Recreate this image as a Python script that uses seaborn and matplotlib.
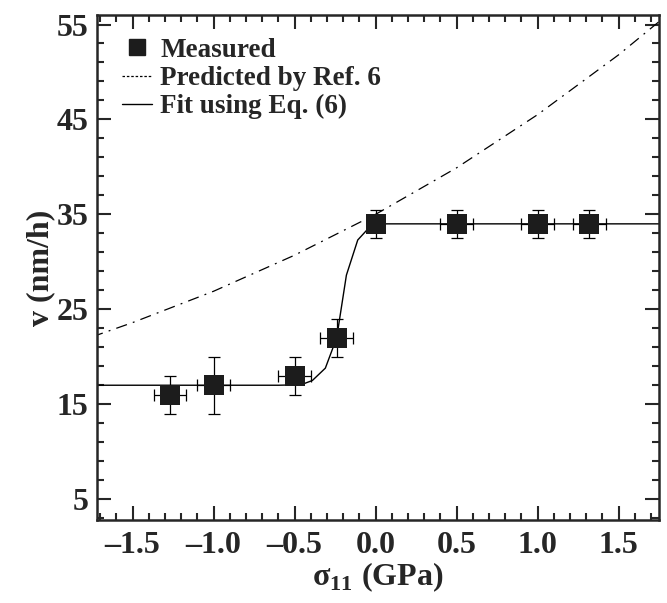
import matplotlib
matplotlib.use("Agg")
import matplotlib.pyplot as plt
import seaborn as sns
import pandas as pd
from matplotlib.ticker import MultipleLocator, FixedLocator, FuncFormatter
from matplotlib.lines import Line2D

# measured growth velocity vs stress
stress = [-1.27, -1.0, -0.5, -0.24, 0.0, 0.5, 1.0, 1.32]
velocity = [16, 17, 18, 22, 34, 34, 34, 34]
vel_err = [2, 3, 2, 2, 1.5, 1.5, 1.5, 1.5]
stress_err = [0.1, 0.1, 0.1, 0.1, 0.0, 0.1, 0.1, 0.1]

# prediction from Ref. 6
pred_x = [-1.75, -1.5, -1.0, -0.5, 0.0, 0.5, 1.0, 1.5, 1.75]
pred_y = [22.1, 23.6, 26.9, 30.7, 35.0, 39.9, 45.5, 51.8, 55.3]

# fit using Eq. (6)
fit_x = [-1.75, -0.6, -0.46, -0.39, -0.31, -0.24, -0.18, -0.11, -0.04, 0.0, 1.75]
fit_y = [17.0, 17.0, 17.05, 17.5, 18.8, 22.0, 28.6, 32.3, 33.6, 34.0, 34.0]

y_major = [5, 15, 25, 35, 45, 55]
y_minor = [3, 7, 9, 11, 13, 17, 19, 21, 23, 27, 29, 31, 33, 37, 39, 41, 43, 47, 49, 51, 53]

meas = pd.DataFrame({"s": stress, "v": velocity})
pred = pd.DataFrame({"s": pred_x, "v": pred_y})
fit = pd.DataFrame({"s": fit_x, "v": fit_y})

sns.set_theme(style="ticks")
plt.rcParams["font.family"] = ["Liberation Serif", "DejaVu Serif"]
plt.rcParams["font.weight"] = "bold"
plt.rcParams["mathtext.fontset"] = "custom"
plt.rcParams["mathtext.rm"] = "Liberation Serif:bold"
plt.rcParams["mathtext.bf"] = "Liberation Serif:bold"

fig = plt.figure(figsize=(6.67, 6.03), dpi=100)
ax = fig.add_axes([0.1454, 0.1376, 0.8426, 0.8375])

sns.lineplot(data=pred, x="s", y="v", ax=ax, color="black", lw=0.9,
             linestyle=(0, (9, 5, 1.5, 5)), sort=False)
sns.lineplot(data=fit, x="s", y="v", ax=ax, color="black", lw=1.0, sort=False)
ax.errorbar(stress, velocity, yerr=vel_err, xerr=stress_err, fmt="none",
            ecolor="black", elinewidth=0.9, capsize=4, capthick=0.9, zorder=3)
sns.scatterplot(data=meas, x="s", y="v", ax=ax, marker="s", s=190,
                color="#1c1c1c", edgecolor="#1c1c1c", linewidth=0, zorder=4)

ax.set_xlim(-1.72, 1.75)
ax.set_ylim(2.8, 56)
ax.xaxis.set_major_locator(MultipleLocator(0.5))
ax.xaxis.set_minor_locator(MultipleLocator(0.1))
ax.yaxis.set_major_locator(FixedLocator(y_major))
ax.yaxis.set_minor_locator(FixedLocator(y_minor))
ax.xaxis.set_major_formatter(FuncFormatter(lambda v, p: f"{v:.1f}".replace("-", "\u2013")))

ax.tick_params(which="both", direction="in", top=True, right=True,
               labelsize=23, width=1.5)
ax.tick_params(axis="x", pad=8)
ax.tick_params(axis="y", pad=6)
ax.tick_params(which="major", length=10)
ax.tick_params(which="minor", length=5)
for sp in ax.spines.values():
    sp.set_linewidth(1.8)
for lab in ax.get_xticklabels() + ax.get_yticklabels():
    lab.set_fontweight("bold")

ax.set_xlabel("\u03c3$_{11}$ (GPa)", fontsize=23, fontweight="bold", labelpad=0)
ax.set_ylabel("v (nm/h)", fontsize=23, fontweight="bold", labelpad=1)

handles = [
    Line2D([], [], marker="s", color="#1c1c1c", ls="none", markersize=12),
    Line2D([], [], color="black", lw=0.9, linestyle=(0, (2, 1.5))),
    Line2D([], [], color="black", lw=1.0),
]
labels = ["Measured", "Predicted by Ref. 6", "Fit using Eq. (6)"]
ax.legend(handles, labels, loc="upper left", bbox_to_anchor=(0.045, 0.955),
          frameon=False, prop={"size": 19.5, "weight": "bold"},
          handlelength=1.1, handletextpad=0.3, labelspacing=0.12,
          borderaxespad=0, borderpad=0)

fig.savefig("out.png", dpi=100)
